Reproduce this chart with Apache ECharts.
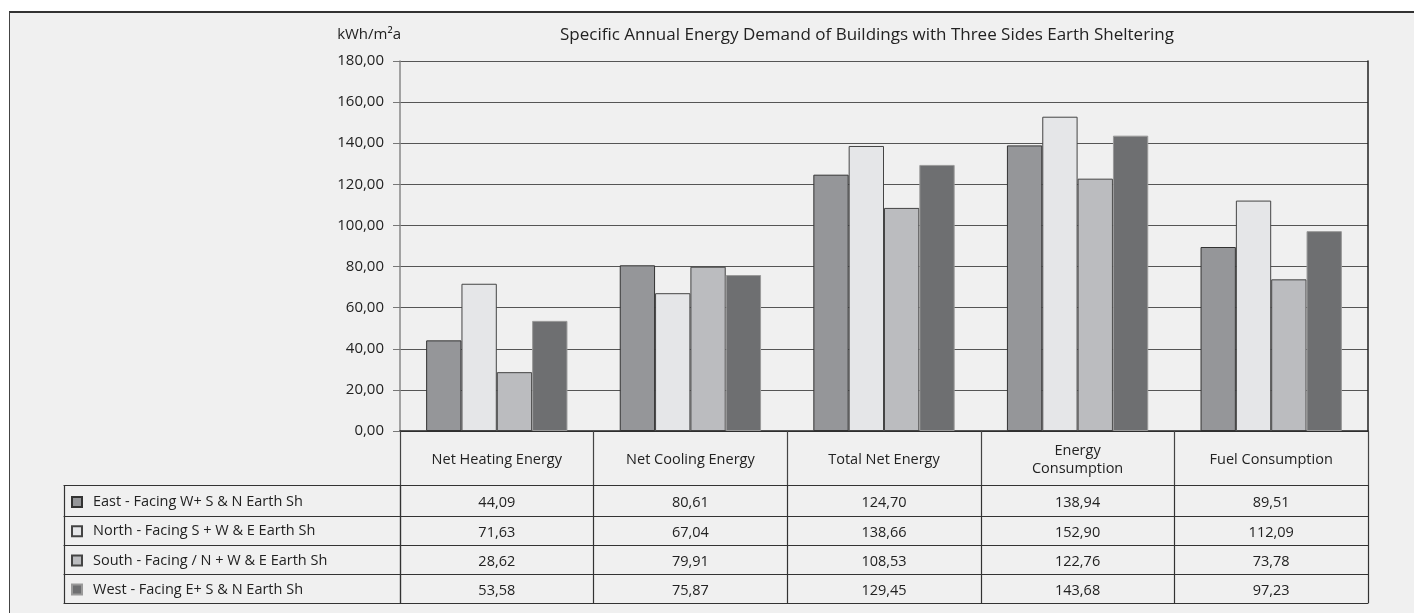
<!DOCTYPE html>
<html><head><meta charset="utf-8">
<script src="https://cdn.jsdelivr.net/npm/echarts@6/dist/echarts.min.js"></script>
<style>
html,body{margin:0;padding:0;background:#fff;}
#frame{position:absolute;left:9px;top:11px;width:1405px;height:602px;background:#f0f0f0;border-top:2px solid #333;border-left:1px solid #444;box-sizing:border-box;}
#chart{position:absolute;left:0;top:0;width:1414px;height:613px;}
</style></head>
<body>
<div id="frame"></div>
<div id="chart"></div>
<script>
const categories = ['Net Heating Energy', 'Net Cooling Energy', 'Total Net Energy', 'Energy\nConsumption', 'Fuel Consumption'];
const seriesNames = ['East - Facing W+ S & N Earth Sh', 'North - Facing S + W & E Earth Sh', 'South - Facing / N + W & E Earth Sh', 'West - Facing E+ S & N Earth Sh'];
const eastValues  = [44.09, 80.61, 124.70, 138.94, 89.51];
const northValues = [71.63, 67.04, 138.66, 152.90, 112.09];
const southValues = [28.62, 79.91, 108.53, 122.76, 73.78];
const westValues  = [53.58, 75.87, 129.45, 143.68, 97.23];
const yTicks = { min: 0, max: 180, step: 20 };
const unitLabel = 'kWh/m²a';
const titleText = 'Specific Annual Energy Demand of Buildings with Three Sides Earth Sheltering';

const allValues = [eastValues, northValues, southValues, westValues];
const colors = ['#959699', '#e5e6e8', '#bbbcbf', '#6e6f71'];
const borders = ['#333', '#444', '#444', '#9a9a9a'];
const fmt = v => Number(v).toFixed(2).replace('.', ',');
const FONT = '"Open Sans", "Noto Sans", sans-serif';

const lineStyle = { color: '#333', width: 1.2 };
const rowOffsets = [54, 85, 114, 143];
const rowHeights = [31, 29, 29, 29];
const bottomOffset = 172;

const xAxes = [];
xAxes.push({
  type: 'category', gridIndex: 0, position: 'bottom', offset: 0, data: categories,
  axisLine: { show: true, onZero: false, lineStyle: { color: '#222', width: 1.5 } },
  axisTick: { show: true, length: 54, lineStyle: { color: '#444', width: 1.2 } },
  axisLabel: { show: true, interval: 0, margin: 29, verticalAlign: 'middle', color: '#222', fontSize: 14.5, fontFamily: FONT, lineHeight: 18 },
  splitLine: { show: false }
});
allValues.forEach((vals, r) => {
  xAxes.push({
    type: 'category', gridIndex: 0, position: 'bottom', offset: rowOffsets[r], data: categories,
    axisLine: { show: true, onZero: false, lineStyle: lineStyle },
    axisTick: { show: true, length: rowHeights[r], lineStyle: lineStyle },
    axisLabel: { show: true, interval: 0, margin: r === 0 ? 18 : 17, verticalAlign: 'middle', color: '#222', fontSize: 14.5, fontFamily: FONT,
      formatter: (v, i) => fmt(vals[i]) },
    splitLine: { show: false }
  });
});
xAxes.push({
  type: 'category', gridIndex: 0, position: 'bottom', offset: bottomOffset, data: categories,
  axisLine: { show: true, onZero: false, lineStyle: lineStyle }, axisTick: { show: false }, axisLabel: { show: false }, splitLine: { show: false }
});
rowOffsets.forEach((off, r) => {
  xAxes.push({
    type: 'category', gridIndex: 1, position: 'bottom', offset: off, data: [''],
    axisLine: { show: true, onZero: false, lineStyle: lineStyle },
    axisTick: { show: true, length: rowHeights[r], lineStyle: lineStyle },
    axisLabel: { show: false }, splitLine: { show: false }
  });
});
xAxes.push({
  type: 'category', gridIndex: 1, position: 'bottom', offset: bottomOffset, data: [''],
  axisLine: { show: true, onZero: false, lineStyle: lineStyle }, axisTick: { show: false }, axisLabel: { show: false }, splitLine: { show: false }
});

const option = {
  animation: false,
  backgroundColor: 'transparent',
  title: {
    text: titleText, left: 560, top: 27, padding: 0,
    textStyle: { fontFamily: FONT, fontSize: 17, fontWeight: 'normal', color: '#222' }
  },
  legend: {
    data: seriesNames, orient: 'vertical', left: 71, top: 493, padding: 0,
    itemWidth: 10, itemHeight: 10, itemGap: 11.2, selectedMode: false, icon: 'rect',
    textStyle: { fontFamily: FONT, fontSize: 14.5, color: '#222', lineHeight: 18, padding: [0, 0, 0, 6] }
  },
  grid: [
    { left: 400, right: 46, top: 61, bottom: 182, containLabel: false },
    { left: 64, width: 336, top: 61, bottom: 182, containLabel: false }
  ],
  xAxis: xAxes,
  yAxis: [
    {
      type: 'value', gridIndex: 0, min: yTicks.min, max: yTicks.max, interval: yTicks.step,
      name: unitLabel, nameLocation: 'end', nameGap: 26,
      nameTextStyle: { fontFamily: FONT, fontSize: 15, color: '#222', align: 'right', verticalAlign: 'middle', padding: [0, -1, 0, 0] },
      axisLine: { show: true, onZero: false, lineStyle: { color: '#888', width: 1.5 } },
      axisTick: { show: true, length: 7, lineStyle: { color: '#777' } },
      axisLabel: { margin: 16, color: '#222', fontSize: 15, fontFamily: FONT, formatter: v => fmt(v) },
      splitLine: { show: true, lineStyle: { color: '#555', width: 1.2 } }
    },
    {
      type: 'value', gridIndex: 0, min: yTicks.min, max: yTicks.max, interval: yTicks.step, position: 'right',
      axisLine: { show: true, onZero: false, lineStyle: { color: '#222', width: 1.5 } },
      axisTick: { show: false }, axisLabel: { show: false }, splitLine: { show: false }
    },
    { type: 'value', gridIndex: 1, show: false, min: 0, max: 1 }
  ],
  series: allValues.map((vals, i) => ({
    name: seriesNames[i], type: 'bar', xAxisIndex: 0, yAxisIndex: 0, data: vals,
    barGap: '0%', barCategoryGap: '27%',
    itemStyle: { color: colors[i], borderColor: borders[i], borderWidth: 1 },
    emphasis: { disabled: true }
  }))
};

const chart = echarts.init(document.getElementById('chart'), null, { renderer: 'canvas' });
chart.setOption(option);
</script>
</body></html>
